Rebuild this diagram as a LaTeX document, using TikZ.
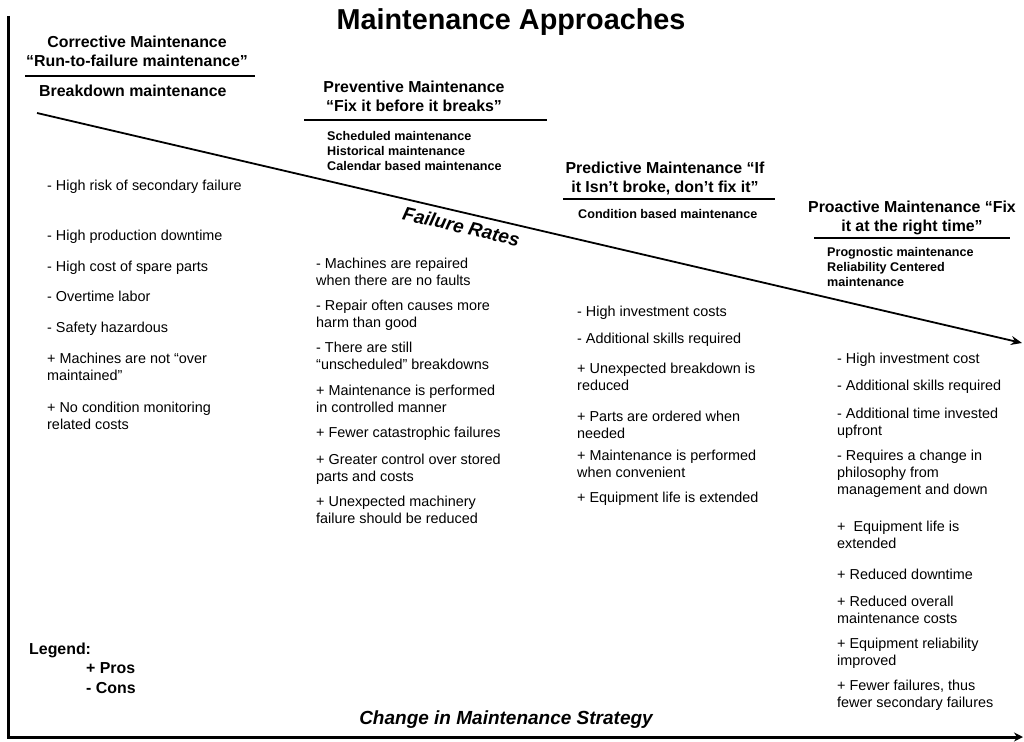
\documentclass[tikz,border=0pt]{standalone}
\usepackage{fontspec}
\setmainfont{Liberation Sans}
\usetikzlibrary{calc,arrows.meta}
\tikzset{>=stealth}
% multi-line nodes sit on the baseline of their last line
\tikzset{
  item/.style={anchor=base west, align=left, inner sep=0pt, font=\fontsize{14.4}{17.4}\selectfont},
  head/.style={anchor=base, align=center, inner sep=0pt, font=\fontsize{15.9}{19}\selectfont\bfseries},
  sub/.style={anchor=base west, align=left, inner sep=0pt, font=\fontsize{12.6}{15.1}\selectfont\bfseries},
  rule/.style={line width=2.6pt},
  axislabel/.style={inner sep=0pt, font=\fontsize{19}{23}\selectfont\bfseries\itshape},
}

\begin{document}
\begin{tikzpicture}[x=1pt,y=-1pt]
\useasboundingbox (0,0) rectangle (1024,741);

\node[anchor=base, inner sep=0pt, font=\fontsize{28.8}{34}\selectfont\bfseries] (title) at (511,30) {Maintenance Approaches};

% axes
\coordinate (top) at (8,16);
\coordinate (origin) at (8,737);
\coordinate (right) at (1023,737);
\draw[line width=3pt, -{Stealth[length=9pt,width=9pt]}] (top) -- (origin) -- (right);
\node[axislabel, anchor=base] (strategy) at (506,724) {Change in Maintenance Strategy};

% failure rate line
\coordinate (fr-start) at (37,113);
\coordinate (fr-end) at (1022,343);
\draw[line width=1.8pt, -{Stealth[length=11pt,width=9pt]}] (fr-start) -- node[axislabel, sloped, below=6pt, pos=0.434] (rate) {Failure Rates} (fr-end);

% headings
\node[head] (corr) at (137,67) {Corrective Maintenance\\“Run-to-failure maintenance”};
\draw[rule] (25,76) -- (255,76);
\node[head, anchor=base west] (breakdown) at (39,97) {Breakdown maintenance};

\node[head] (prev) at (414,112) {Preventive Maintenance\\“Fix it before it breaks”};
\draw[rule] (304,120) -- (547,120);
\node[sub] (prevsub) at (327,170.2) {Scheduled maintenance\\Historical maintenance\\Calendar based maintenance};

\node[head] (pred) at (665,192) {Predictive Maintenance “If\\it Isn't broke, don’t fix it”};
\draw[rule] (563,199) -- (775,199);
\node[sub] (predsub) at (578,218) {Condition based maintenance};

\node[head] (proa) at (912,231) {Proactive Maintenance “Fix\\it at the right time”};
\draw[rule] (814,238) -- (1010,238);
\node[sub] (proasub) at (827,286.2) {Prognostic maintenance\\Reliability Centered\\maintenance};

% pros and cons
\foreach \i/\y/\txt in {1/190/{- High risk of secondary failure},
    2/240/{- High production downtime},
    3/271/{- High cost of spare parts},
    4/301/{- Overtime labor},
    5/332/{- Safety hazardous},
    6/380.4/{+ Machines are not “over\\maintained”},
    7/429.4/{+ No condition monitoring\\related costs}}
  \node[item] (corr\i) at (47,\y) {\txt};

\foreach \i/\y/\txt in {1/285.4/{- Machines are repaired\\when there are no faults},
    2/327.4/{- Repair often causes more\\harm than good},
    3/369.4/{- There are still\\“unscheduled” breakdowns},
    4/412.4/{+ Maintenance is performed\\in controlled manner},
    5/437/{+ Fewer catastrophic failures},
    6/481.4/{+ Greater control over stored\\parts and costs},
    7/523.4/{+ Unexpected machinery\\failure should be reduced}}
  \node[item] (prev\i) at (316,\y) {\txt};

\foreach \i/\y/\txt in {1/316/{- High investment costs},
    2/343/{- Additional skills required},
    3/390.4/{+ Unexpected breakdown is\\reduced},
    4/438.4/{+ Parts are ordered when\\needed},
    5/477.4/{+ Maintenance is performed\\when convenient},
    6/502/{+ Equipment life is extended}}
  \node[item] (pred\i) at (577,\y) {\txt};

\foreach \i/\y/\txt in {1/363/{- High investment cost},
    2/390/{- Additional skills required},
    3/435.4/{- Additional time invested\\upfront},
    4/494.8/{- Requires a change in\\philosophy from\\management and down},
    5/548.4/{+~ Equipment life is\\extended},
    6/579/{+ Reduced downtime},
    7/623.4/{+ Reduced overall\\maintenance costs},
    8/665.4/{+ Equipment reliability\\improved},
    9/707.4/{+ Fewer failures, thus\\fewer secondary failures}}
  \node[item] (proa\i) at (837,\y) {\txt};

% legend
\node[head, anchor=base west] (legend) at (29,654) {Legend:};
\node[head, anchor=base west] (pros) at (86,673) {+ Pros};
\node[head, anchor=base west] (cons) at (86,693) {- Cons};
\end{tikzpicture}
\end{document}
